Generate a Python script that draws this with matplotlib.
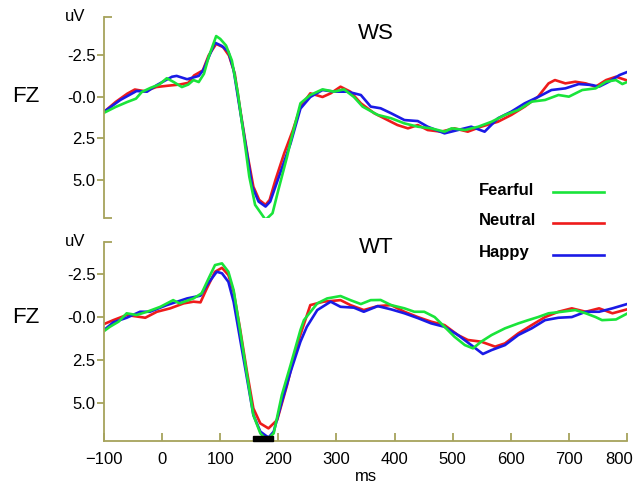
import matplotlib.pyplot as plt
from matplotlib.lines import Line2D
from matplotlib.transforms import ScaledTranslation

plt.rcParams['font.family'] = ['Liberation Sans', 'DejaVu Sans']

labels = ['Fearful', 'Neutral', 'Happy']
colores = {'Fearful': '#19e43a', 'Neutral': '#ee1b1b', 'Happy': '#1a1ae6'}

# ---- WS (top panel) : ms, uV ----
ws_fearful_t = [-100, -80, -60, -45, -35, -20, -5, 8, 20, 34, 45, 54, 63, 72, 80, 93, 100, 110,
                120, 130, 140, 150, 160, 170, 178, 190, 200, 215, 221, 238, 255, 276, 296, 313,
                330, 345, 371, 394, 417, 440, 463, 486, 498, 521, 544, 567, 590, 613, 636, 659,
                682, 700, 723, 746, 764, 781, 792, 800]
ws_fearful_v = [0.95, 0.6, 0.3, 0.1, -0.3, -0.55, -0.75, -1.13, -0.9, -0.6, -0.75, -1.02, -0.9,
                -1.4, -2.4, -3.67, -3.5, -3.1, -2.2, -0.3, 2.2, 4.8, 6.5, 7.0, 7.4, 7.0, 5.6, 3.6,
                2.7, 0.38, -0.12, -0.46, -0.32, -0.46, 0.0, 0.58, 1.08, 1.28, 1.59, 1.79, 1.89,
                2.09, 1.89, 1.99, 1.79, 1.49, 1.08, 0.78, 0.28, 0.18, -0.12, -0.02, -0.42, -0.52,
                -0.92, -1.02, -0.78, -0.9]

ws_neutral_t = [-100, -80, -60, -47, -30, -10, 10, 30, 45, 55, 70, 80, 93, 105, 115, 125, 135,
                147, 157, 167, 178, 185, 195, 210, 225, 238, 255, 276, 290, 307, 324, 342, 365,
                388, 405, 423, 440, 457, 480, 503, 526, 549, 578, 601, 624, 647, 665, 676, 694,
                711, 729, 746, 764, 781, 800]
ws_neutral_v = [0.9, 0.3, -0.2, -0.45, -0.35, -0.6, -0.68, -0.75, -0.85, -1.3, -1.6, -2.5, -3.2,
                -3.0, -2.5, -1.4, 0.9, 3.5, 5.4, 6.2, 6.5, 6.2, 5.0, 3.4, 2.0, 0.6, -0.22, 0.0,
                -0.22, -0.62, -0.32, 0.38, 0.98, 1.39, 1.69, 1.89, 1.69, 1.99, 2.09, 1.89, 2.09,
                1.79, 1.49, 1.08, 0.58, -0.02, -0.82, -1.02, -0.82, -0.92, -0.82, -0.62, -1.02,
                -1.22, -1.0]

ws_happy_t = [-100, -72, -44, -26, -9, 17, 25, 43, 63, 71, 83, 91, 103, 114, 123, 134, 146, 155,
              166, 178, 186, 203, 221, 238, 255, 276, 296, 319, 342, 359, 376, 394, 417, 440,
              457, 486, 509, 532, 555, 578, 601, 624, 647, 670, 694, 717, 740, 752, 769, 787, 800]
ws_happy_v = [0.89, 0.18, -0.36, -0.32, -0.72, -1.22, -1.27, -1.07, -1.27, -1.63, -2.63, -3.27,
              -3.07, -2.73, -1.63, 0.78, 3.39, 5.4, 6.3, 6.6, 6.3, 4.6, 2.8, 0.7, 0.0, -0.42,
              -0.32, -0.32, -0.12, 0.58, 0.68, 0.98, 1.39, 1.45, 1.79, 2.19, 1.99, 1.79, 2.09,
              1.28, 0.88, 0.38, 0.0, -0.42, -0.52, -0.78, -0.72, -0.62, -0.92, -1.32, -1.5]

# ---- WT (bottom panel) ----
wt_fearful_t = [-100, -90, -75, -61, -44, -26, -3, 19, 30, 54, 68, 80, 91, 103, 114, 123, 134,
                146, 157, 169, 180, 192, 206, 221, 238, 244, 267, 284, 307, 324, 342, 359, 376,
                394, 417, 434, 451, 469, 486, 503, 521, 535, 549, 567, 590, 613, 630, 647, 665,
                688, 711, 729, 746, 757, 781, 800]
wt_fearful_v = [0.82, 0.57, 0.27, -0.22, -0.12, -0.31, -0.6, -0.99, -0.8, -1.09, -1.39, -2.26,
                -3.04, -3.14, -2.65, -1.58, 0.76, 3.39, 5.73, 6.8, 7.19, 6.8, 4.56, 2.81, 0.76,
                0.18, -0.8, -1.09, -1.23, -0.99, -0.76, -0.99, -1.0, -0.7, -0.51, -0.31, -0.31,
                0.0, 0.57, 1.15, 1.64, 1.83, 1.44, 1.05, 0.66, 0.37, 0.18, 0.0, -0.22, -0.31,
                -0.41, -0.22, 0.0, 0.18, 0.14, -0.2]

wt_neutral_t = [-100, -84, -61, -29, -9, 14, 37, 54, 66, 77, 91, 103, 114, 123, 134, 146, 157,
                169, 183, 198, 215, 232, 255, 278, 307, 324, 347, 371, 394, 417, 440, 463, 486,
                509, 526, 549, 573, 590, 613, 636, 659, 682, 705, 729, 752, 775, 800]
wt_neutral_v = [0.41, 0.18, -0.12, 0.04, -0.31, -0.51, -0.8, -0.9, -0.86, -1.68, -2.65, -2.88,
                -2.46, -1.48, 0.66, 3.2, 5.34, 6.22, 6.51, 6.02, 3.98, 1.64, -0.7, -0.9, -0.99,
                -0.7, -0.41, -0.64, -0.7, -0.31, 0.0, 0.27, 0.47, 1.05, 1.34, 1.44, 1.73, 1.54,
                0.95, 0.47, 0.0, -0.31, -0.51, -0.31, -0.51, -0.22, -0.45]

wt_happy_t = [-100, -84, -61, -38, -21, 8, 43, 66, 77, 94, 103, 114, 123, 134, 146, 157, 169,
              183, 192, 206, 221, 238, 249, 267, 290, 307, 330, 347, 371, 394, 417, 440, 463,
              486, 509, 532, 552, 567, 590, 613, 636, 659, 682, 705, 729, 752, 775, 800]
wt_happy_v = [0.76, 0.31, 0.04, -0.31, -0.31, -0.7, -1.09, -1.25, -1.87, -2.65, -2.56, -2.06,
              -0.9, 1.25, 3.58, 5.73, 6.7, 7.05, 6.7, 4.95, 3.2, 1.44, 0.57, -0.41, -0.9, -0.6,
              -0.55, -0.31, -0.64, -0.45, -0.22, 0.06, 0.37, 0.57, 1.05, 1.64, 2.16, 1.93, 1.64,
              1.05, 0.66, 0.18, 0.04, 0.0, -0.31, -0.31, -0.51, -0.76]

paineis = [
    ('WS', {'Fearful': (ws_fearful_t, ws_fearful_v),
            'Neutral': (ws_neutral_t, ws_neutral_v),
            'Happy': (ws_happy_t, ws_happy_v)}, (7.29, -4.82)),
    ('WT', {'Fearful': (wt_fearful_t, wt_fearful_v),
            'Neutral': (wt_neutral_t, wt_neutral_v),
            'Happy': (wt_happy_t, wt_happy_v)}, (7.25, -4.39)),
]
y_ticks = [-2.5, 0.0, 2.5, 5.0]
y_ticklabels = ['-2.5', '-0.0', '2.5', '5.0']
x_ticks = list(range(-100, 801, 100))
barra_sig = (157, 191)

eixo_cor = '#a6a35c'

fig = plt.figure(figsize=(6.37, 4.84), dpi=100)
posicoes = [[0.1633, 0.5496, 0.821, 0.4153], [0.1633, 0.0888, 0.821, 0.4112]]

for i, (nome, series, ylim) in enumerate(paineis):
    ax = fig.add_axes(posicoes[i])
    for lab in ['Neutral', 'Happy', 'Fearful']:
        t, v = series[lab]
        ax.plot(t, v, color=colores[lab], lw=1.9, solid_joinstyle='round')
    ax.set_xlim(-100, 800)
    ax.set_ylim(*ylim)
    for s in ['top', 'right']:
        ax.spines[s].set_visible(False)
    ax.spines['left'].set_color(eixo_cor)
    ax.spines['left'].set_linewidth(1.3)
    ax.set_yticks(y_ticks)
    ax.set_yticklabels(y_ticklabels)
    ax.tick_params(axis='y', direction='out', length=5, width=1.3, color=eixo_cor,
                   labelsize=12, pad=1)
    # end caps of the y axis
    ax.set_yticks([ylim[1]] + ([ylim[0]] if i == 0 else []), minor=True)
    ax.tick_params(axis='y', which='minor', direction='in', length=6, width=1.3,
                   color=eixo_cor)
    ax.text(-0.035, 1.0, 'uV', transform=ax.transAxes, ha='right', va='center',
            fontsize=12)
    ax.text(-0.15, (0 - ylim[0]) / (ylim[1] - ylim[0]), 'FZ', transform=ax.transAxes,
            ha='center', va='center', fontsize=16)
    ax.text(0.52, 0.92 if i == 0 else 0.97, nome, transform=ax.transAxes,
            ha='center', va='center', fontsize=16)
    if i == 0:
        ax.spines['bottom'].set_visible(False)
        ax.set_xticks([])
    else:
        ax.spines['bottom'].set_color(eixo_cor)
        ax.spines['bottom'].set_linewidth(1.3)
        ax.set_xticks(x_ticks)
        ax.tick_params(axis='x', direction='in', length=6, width=1.3, color=eixo_cor,
                       labelsize=12, pad=8)
        ax.set_xlabel('ms', fontsize=12, labelpad=1)
        ax.axvspan(barra_sig[0], barra_sig[1], ymin=0, ymax=0.025, color='black',
                   clip_on=False, zorder=5)
        # last label pulled in a bit so it stays inside the figure
        ultimo = ax.get_xticklabels()[-1]
        ultimo.set_transform(ultimo.get_transform() +
                             ScaledTranslation(-6 / 72, 0, fig.dpi_scale_trans))

# legenda manual
leg_y = [0.607, 0.544, 0.478]
for lab, y in zip(labels, leg_y):
    fig.text(0.752, y, lab, fontsize=12, fontweight='bold', ha='left', va='center')
    fig.add_artist(Line2D([0.868, 0.948], [y - 0.004, y - 0.004], color=colores[lab],
                          lw=1.9, transform=fig.transFigure))

fig.savefig('out.png', dpi=100)
